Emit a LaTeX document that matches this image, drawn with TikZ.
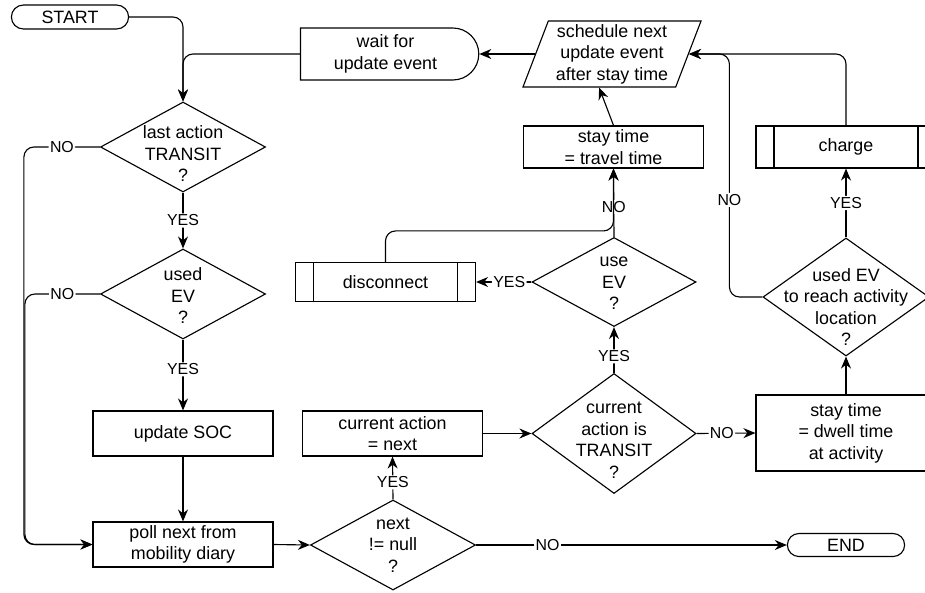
\documentclass[tikz,border=0pt]{standalone}
\usepackage{fontspec}
\setmainfont{Liberation Sans}
\usepackage{tikz}
\usetikzlibrary{shapes.geometric,shapes.misc,arrows.meta}

\tikzset{
  box/.style={draw, rectangle, align=center, minimum width=4.5cm, minimum height=1.125cm, inner sep=1pt},
  subproc/.style={box, path picture={
      \draw ([xshift=0.45cm]path picture bounding box.north west) -- ([xshift=0.45cm]path picture bounding box.south west);
      \draw ([xshift=-0.45cm]path picture bounding box.north east) -- ([xshift=-0.45cm]path picture bounding box.south east);}},
  term/.style={draw, rounded rectangle, minimum width=3cm, minimum height=0.6cm, inner sep=1pt},
  delay/.style={draw, rounded rectangle, rounded rectangle left arc=none, align=center, minimum width=4.525cm, minimum height=1.3cm, inner sep=1pt},
  io/.style={draw, trapezium, trapezium left angle=67, trapezium right angle=113, trapezium stretches body, align=center, minimum width=4.45cm, minimum height=1.65cm, inner sep=0pt},
  decision/.style={draw, diamond, inner sep=0pt, minimum width=4.125cm, minimum height=2.25cm},
  dtext/.style={align=center, inner sep=0pt},
  flow/.style={->, rounded corners=0.25cm},
  lbl/.style={fill=white, inner sep=1pt, font=\fontsize{11.3}{13}\selectfont}
}

\begin{document}
\begin{tikzpicture}[x=0.025cm, y=-0.025cm, line width=0.8pt, >={Stealth[length=0.3cm,width=0.25cm]},
    font=\fontsize{12.7}{15.3}\selectfont]
  \clip (0,0) rectangle (925,592);

  \node[term] (start) at (70,17) {START};
  \node[delay] (wait) at (385.5,54) {wait for\\update event};
  \node[io] (sched) at (612,54) {schedule next\\update event\\after stay time};
  \node[decision, label={[dtext,yshift=-0.17cm]center:last action\\TRANSIT\\?}] (last) at (183,147) {};
  \node[decision, label={[dtext,yshift=-0.05cm]center:used\\EV\\?}] (used) at (183,294) {};
  \node[box] (soc) at (183,433.5) {update SOC};
  \node[box] (poll) at (183,544.5) {poll next from\\mobility diary};
  \node[decision, label={[dtext]center:next\\!= null\\?}] (next) at (393,545) {};
  \node[box] (cur) at (392.5,433.5) {current action\\= next};
  \node[decision, minimum width=4.1cm, minimum height=3cm, label={[dtext,yshift=-0.17cm]center:current\\action is\\TRANSIT\\?}] (trans) at (614,433.5) {};
  \node[box, minimum height=1.9cm] (dwell) at (846,433) {stay time\\= dwell time\\at activity};
  \node[decision, minimum width=4.15cm, minimum height=2.95cm, label={[dtext,yshift=-0.25cm]center:used EV\\to reach activity\\location\\?}] (reach) at (846,297) {};
  \node[subproc, minimum height=1.05cm] (charge) at (846,147) {charge};
  \node[box, minimum height=1.05cm] (travel) at (613.5,147) {stay time\\= travel time};
  \node[decision, minimum width=4.1cm, minimum height=2.225cm, label={[dtext,yshift=-0.04cm]center:use\\EV\\?}] (use) at (614,282) {};
  \node[subproc, minimum height=0.975cm] (disc) at (385.5,282) {disconnect};
  \node[term, minimum height=0.575cm] (end) at (846,545) {END};

  \draw[flow] (start.east) -| (last.north);
  \draw[flow] (wait.west) -| (last.north);
  \draw[flow] (last.south) -- node[lbl]{YES} (used.north);
  \draw[flow] (last.west) -- node[lbl]{NO} ++(-76,0) |- (poll.west);
  \draw[flow] (used.west) -- node[lbl]{NO} ++(-75,0) |- (poll.west);
  \draw[flow] (used.south) -- node[lbl, pos=0.42]{YES} (soc.north);
  \draw[flow] (soc.south) -- (poll.north);
  \draw[flow] (poll.east) -- (next.west);
  \draw[flow] (next.north) -- node[lbl, pos=0.4]{YES} (cur.south);
  \draw[flow] (next.east) -- node[lbl, pos=0.23]{NO} (end.west);
  \draw[flow] (cur.east) -- (trans.west);
  \draw[flow] (trans.east) -- node[lbl, pos=0.43]{NO} (dwell.west);
  \draw[flow] (trans.north) -- node[lbl, pos=0.36]{YES} (use.south);
  \draw[flow] (use.west) -- node[lbl, pos=0.4]{YES} (disc.east);
  \draw[flow] (use.north) -- node[lbl, pos=0.44]{NO} (travel.south);
  \draw[flow] (disc.north) -- ++(0,-31) -| (travel.south);
  \draw[flow] (travel.north) -- (sched.bottom side);
  \draw[flow] (sched.left side) -- (wait.east);
  \draw[flow] (dwell.north) -- (reach.south);
  \draw[flow] (reach.north) -- node[lbl]{YES} (charge.south);
  \draw[flow] (charge.north) |- (sched.right side);
  \draw[flow] (reach.west) -- ++(-33,0) |- node[lbl, pos=0.2]{NO} (sched.right side);
\end{tikzpicture}
\end{document}
